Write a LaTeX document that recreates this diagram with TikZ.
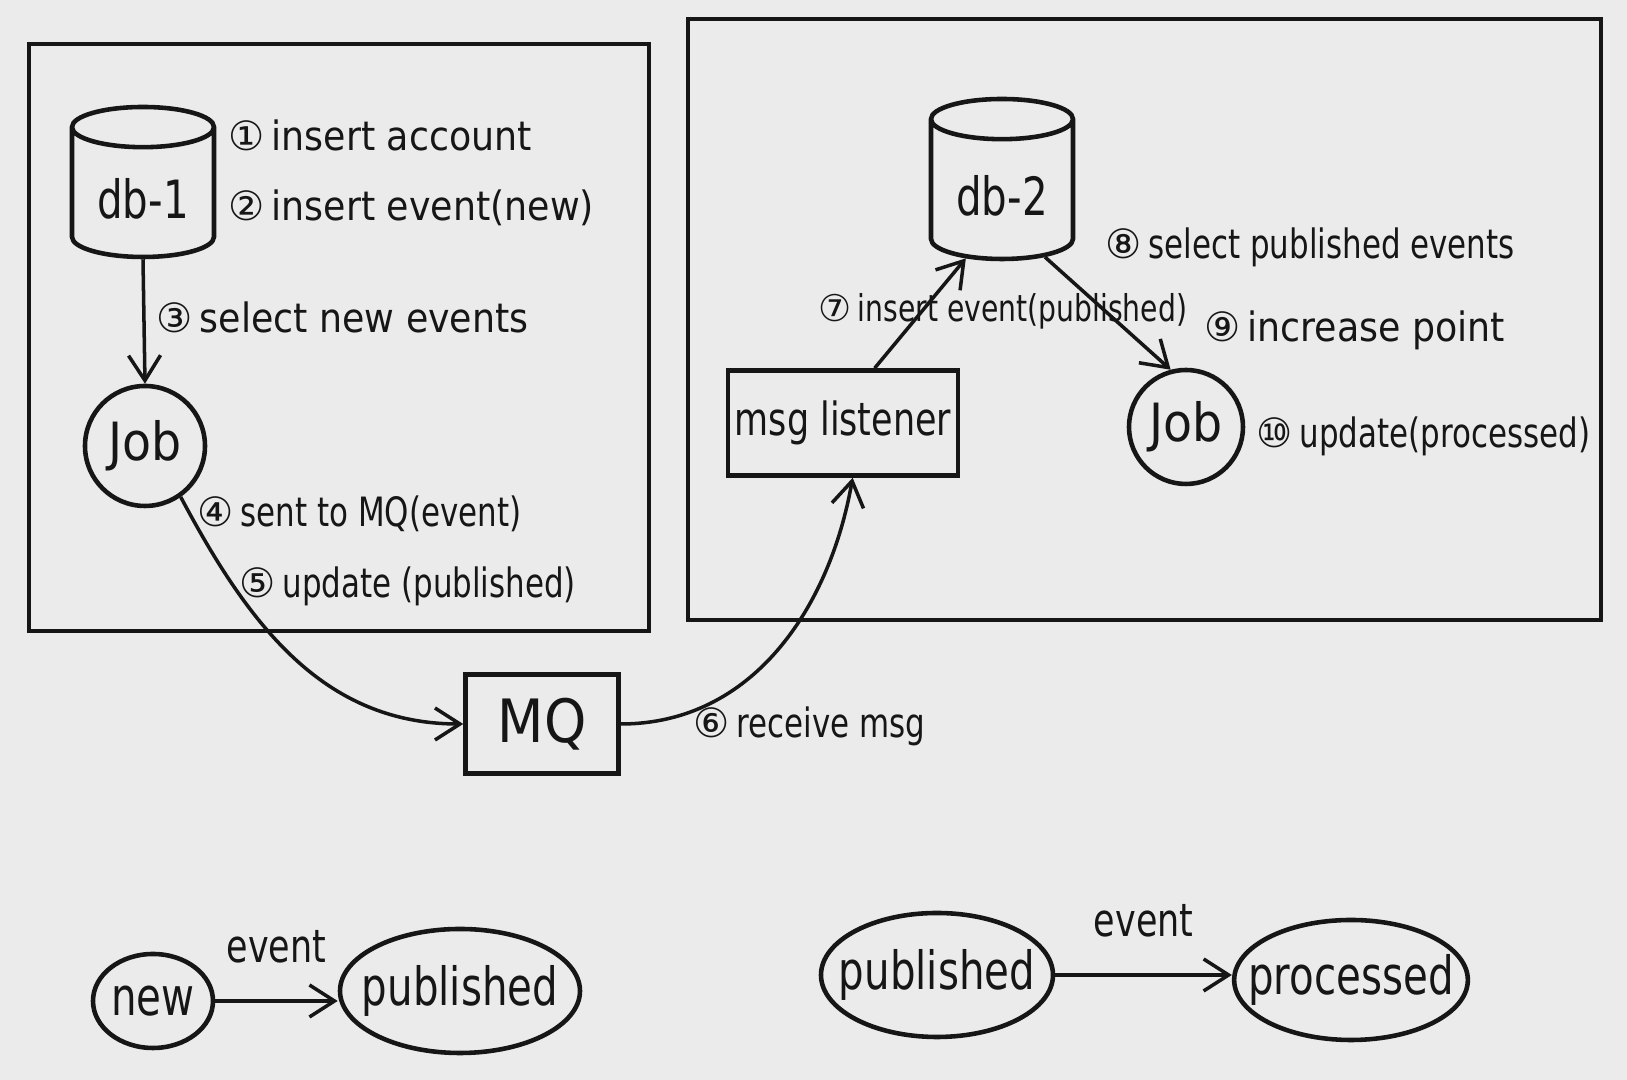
\documentclass[tikz,border=0pt]{standalone}
\usepackage{fontspec}
\setmainfont{DejaVu Sans Condensed}
\newfontfamily\numfont{DejaVu Sans}
\newfontfamily\tightfont{DejaVu Sans Condensed}[FakeStretch=0.85]
\usetikzlibrary{shapes.geometric, arrows.meta, positioning}
\definecolor{paper}{RGB}{235,235,235}
\definecolor{ink}{RGB}{22,22,22}
\newcommand{\stepno}[1]{{\numfont #1}\,}
\begin{document}
\begin{tikzpicture}[
        color=ink,
        db/.style={cylinder, shape border rotate=90, aspect=0.35, draw, line width=1.3pt, anchor=shape center,
            minimum width=1.42cm, minimum height=1.5cm, font=\tightfont\fontsize{15}{17}\selectfont},
        job/.style={circle, draw, line width=1.3pt, inner sep=0pt, font=\fontsize{15}{17}\selectfont},
        boxnode/.style={rectangle, draw, line width=1.3pt},
        state/.style={ellipse, draw, line width=1.3pt, inner xsep=-0.2cm, inner ysep=0pt,
            font=\tightfont\fontsize{15}{17}\selectfont},
        lbl/.style={anchor=west, inner sep=0pt, font=\fontsize{11.5}{13}\selectfont},
        lbltight/.style={lbl, font=\tightfont\fontsize{11.5}{13}\selectfont},
        flow/.style={-{Straight Barb[length=2.5mm, width=3.2mm]}, line width=1pt}
    ]
        \fill[paper] (0,0) rectangle (16.27,10.80);
        \useasboundingbox (0,0) rectangle (16.27,10.80);
        % service frames
        \draw[line width=1.2pt] (0.29,4.49) rectangle (6.49,10.36);
        \draw[line width=1.2pt] (6.88,4.60) rectangle (16.01,10.61);
        % left side
        \node[db] (db1) at (1.43,8.98) {db-1};
        \node[job, minimum size=1.2cm] (job1) at (1.45,6.34) {Job};
        \node[lbl] (l1) at (2.28,9.45) {\stepno{①}insert account};
        \node[lbl] (l2) at (2.28,8.72) {\stepno{②}insert event(new)};
        \node[lbl] (l3) at (1.56,7.63) {\stepno{③}select new events};
        \node[lbltight] (l4) at (1.97,5.66) {\stepno{④}sent to MQ(event)};
        \node[lbltight] (l5) at (2.39,4.94) {\stepno{⑤}update (published)};
        % queue
        \node[boxnode, minimum width=1.53cm, minimum height=0.99cm,
            font=\fontsize{17}{19}\selectfont] (mq) at (5.42,3.56) {MQ};
        \node[lbltight] (l6) at (6.93,3.54) {\stepno{⑥}receive msg};
        % right side
        \node[boxnode, minimum width=2.2cm, minimum height=1.05cm, inner xsep=2pt,
            font=\tightfont\fontsize{13}{15}\selectfont] (listener) at (8.43,6.57) {msg listener};
        \node[db, minimum height=1.6cm] (db2) at (10.02,9.01) {db-2};
        \node[job, minimum size=1.14cm] (job2) at (11.86,6.53) {Job};
        \node[lbltight, font=\tightfont\fontsize{10.5}{12}\selectfont] (l7) at (8.18,7.69) {\stepno{⑦}insert event(published)};
        \node[lbltight] (l8) at (11.05,8.33) {\stepno{⑧}select published events};
        \node[lbl] (l9) at (12.04,7.50) {\stepno{⑨}increase point};
        \node[lbltight] (l10) at (12.56,6.44) {\stepno{⑩}update(processed)};
        % flow
        \draw[flow] (db1.south) -- (job1.north);
        \draw[flow] (job1.-55) to[out=-62, in=180] (mq.west);
        \draw[flow] (mq.east) to[out=0, in=-100] (listener.-80);
        \draw[flow] (listener.60) -- (db2.240);
        \draw[flow] (db2.305) -- (job2.105);
        % event states
        \node[state, minimum width=1.2cm, minimum height=0.94cm] (new) at (1.53,0.79) {new};
        \node[state, minimum width=2.4cm, minimum height=1.24cm] (pub1) at (4.60,0.89) {published};
        \node[state, minimum width=2.32cm, minimum height=1.24cm] (pub2) at (9.37,1.05) {published};
        \node[state, minimum width=2.32cm, minimum height=1.2cm] (proc) at (13.51,1.00) {processed};
        \draw[flow] (new.east) -- node[above=7pt, font=\tightfont\fontsize{13}{15}\selectfont] (e1) {event} (new.east -| pub1.west);
        \draw[flow] (pub2.east) -- node[above=7pt, font=\tightfont\fontsize{13}{15}\selectfont] (e2) {event} (pub2.east -| proc.west);
    \end{tikzpicture}
\end{document}
